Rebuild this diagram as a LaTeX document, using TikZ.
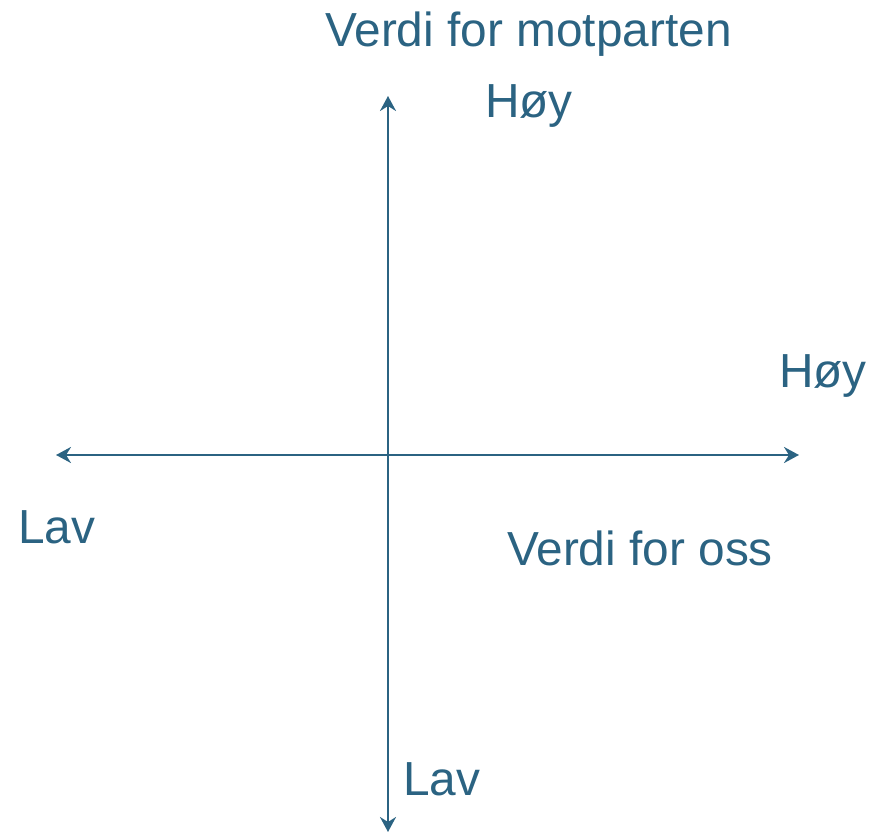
\documentclass[tikz,border=0pt]{standalone}
\usepackage{fontspec}
\setmainfont{Liberation Sans}
\usetikzlibrary{arrows.meta}
\definecolor{axisblue}{HTML}{2B6382}
\tikzset{
  axis/.style={draw=axisblue, line width=2.8pt, {Stealth[length=15pt,width=16pt,inset=5pt]}-{Stealth[length=15pt,width=16pt,inset=5pt]}},
  lbl/.style={anchor=base west, inner sep=0pt, text=axisblue, font=\fontsize{47.8}{48}\selectfont}
}
\begin{document}
\begin{tikzpicture}[x=1pt,y=-1pt]
\useasboundingbox (0,0) rectangle (871,833);
\coordinate (vtop) at (388,96);
\coordinate (vbot) at (388,832);
\coordinate (hl) at (56,455);
\coordinate (hr) at (799,455);
\draw[axis] (vbot) -- (vtop);
\draw[axis] (hl) -- (hr);
\node[lbl] (title) at (325,46) {Verdi for motparten};
\node[lbl] (hoyTop) at (485,117) {Høy};
\node[lbl] (hoyRight) at (779,387) {Høy};
\node[lbl] (lavLeft) at (18,543) {Lav};
\node[lbl] (oss) at (507,565) {Verdi for oss};
\node[lbl] (lavBot) at (403,795) {Lav};
\end{tikzpicture}
\end{document}
